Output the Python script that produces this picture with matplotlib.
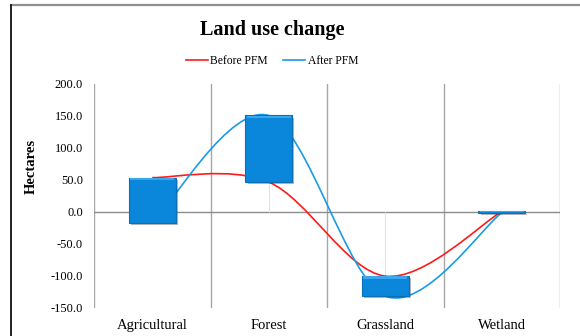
import matplotlib
matplotlib.use("Agg")
import matplotlib.pyplot as plt
import matplotlib.patheffects as pe
from matplotlib.path import Path
from matplotlib.patches import PathPatch
from matplotlib.lines import Line2D

plt.rcParams['font.family'] = ['Liberation Serif', 'DejaVu Serif']

categories = ["Agricultural", "Forest", "Grassland", "Wetland"]
before_pfm = [53, 46, -101, 0]
after_pfm = [-18, 150, -132, -2]
y_ticks = [-150, -100, -50, 0, 50, 100, 150, 200]

RED = "#FF1A1A"
BLUE = "#1A9BE6"
BAR = "#0A86DB"


def smooth_path(xs, ys):
    """Cubic Bezier path through the points (Catmull-Rom style smoothing)."""
    n = len(xs)
    px = [xs[0]] + list(xs) + [xs[-1]]
    py = [ys[0]] + list(ys) + [ys[-1]]
    verts = [(xs[0], ys[0])]
    codes = [Path.MOVETO]
    for i in range(n - 1):
        p0x, p1x, p2x, p3x = px[i], px[i + 1], px[i + 2], px[i + 3]
        p0y, p1y, p2y, p3y = py[i], py[i + 1], py[i + 2], py[i + 3]
        c1 = (p1x + (p2x - p0x) / 6.0, p1y + (p2y - p0y) / 6.0)
        c2 = (p2x - (p3x - p1x) / 6.0, p2y - (p3y - p1y) / 6.0)
        verts += [c1, c2, (p2x, p2y)]
        codes += [Path.CURVE4] * 3
    return Path(verts, codes)


fig = plt.figure(figsize=(5.8, 3.36), dpi=100)
ax = fig.add_axes([94 / 580, 1 - 307.5 / 336, 466 / 580, 224 / 336])

x = list(range(len(categories)))
ax.set_xlim(-0.5, len(categories) - 0.5)
ax.set_ylim(-150, 200)

# category separators and zero line
for b in [i + 0.5 for i in range(-1, len(categories))]:
    ax.axvline(b, color="#A6A6A6", lw=1.0, zorder=1)
ax.axhline(0, color="#8C8C8C", lw=1.0, zorder=1)

# faint high-low lines
for xi, b, a in zip(x, before_pfm, after_pfm):
    lo, hi = min(0, b, a), max(0, b, a)
    ax.vlines(xi, lo, hi, color="#E2E2E2", lw=0.8, zorder=1.5)

# smoothed series
ax.add_patch(PathPatch(smooth_path(x, before_pfm), fill=False, edgecolor=RED,
                       lw=1.2, zorder=2))
ax.add_patch(PathPatch(smooth_path(x, after_pfm), fill=False, edgecolor=BLUE,
                       lw=1.2, zorder=2))

# up/down bars between the two series
bottoms = [min(b, a) for b, a in zip(before_pfm, after_pfm)]
heights = [abs(a - b) for b, a in zip(before_pfm, after_pfm)]
bars = ax.bar(x, heights, bottom=bottoms, width=0.4, color=BAR,
              edgecolor="#0C6EB5", lw=0.8, zorder=3)
for r in bars:
    r.set_path_effects([pe.SimplePatchShadow(offset=(1.5, -1.5), alpha=0.35,
                                             shadow_rgbFace="#333333"),
                        pe.Normal()])
    # bevel highlight along the top edge
    bx, by = r.get_x(), r.get_y()
    bw, bh = r.get_width(), r.get_height()
    band = min(bh * 0.12, 4)
    ax.add_patch(plt.Rectangle((bx + 0.01, by + bh - band), bw - 0.02, band,
                               color="#3AA6EE", lw=0, zorder=3.5))

ax.set_yticks(y_ticks)
ax.set_yticklabels([f"{v:.1f}" for v in y_ticks], fontsize=9)
ax.set_xticks(x)
ax.set_xticklabels(categories, fontsize=10.5)
ax.tick_params(axis="both", length=0)
ax.tick_params(axis="y", pad=8)
ax.tick_params(axis="x", pad=8)
for s in ax.spines.values():
    s.set_visible(False)

ax.set_ylabel("Hectares", fontsize=10.5, fontweight="bold")
ax.yaxis.set_label_coords(-0.12, 0.63)

fig.text(272 / 580, 1 - 30 / 336, "Land use change", ha="center", va="center",
         fontsize=14.5, fontweight="bold")

handles = [Line2D([], [], color=RED, lw=1.2), Line2D([], [], color=BLUE, lw=1.2)]
fig.legend(handles, ["Before PFM", "After PFM"], loc="center",
           bbox_to_anchor=(272 / 580, 1 - 61 / 336), ncol=2, frameon=False,
           fontsize=8.4, handlelength=1.9, handletextpad=0.2,
           columnspacing=1.3)

# chart-area border
fig.add_artist(Line2D([11 / 580, 1.0], [1 - 5 / 336, 1 - 5 / 336],
                      color="#8F8F8F", lw=1.6, transform=fig.transFigure))
fig.add_artist(Line2D([11 / 580, 11 / 580], [0, 1 - 5 / 336],
                      color="#222222", lw=1.4, transform=fig.transFigure))

fig.savefig("out.png", dpi=100)
